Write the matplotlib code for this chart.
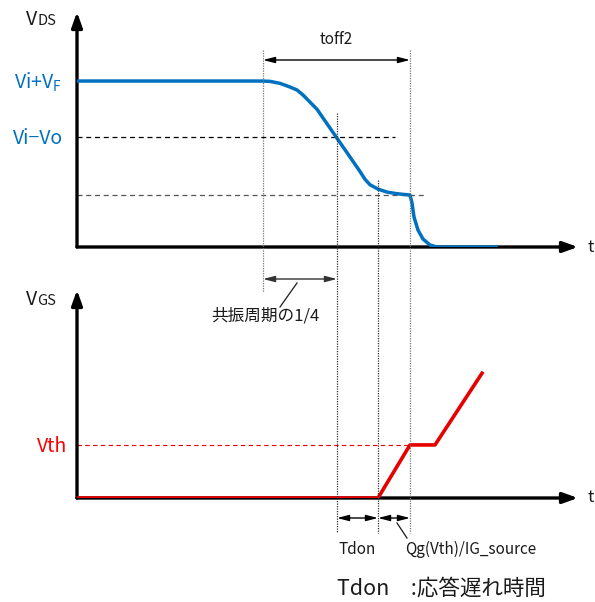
import matplotlib.pyplot as plt
from matplotlib.transforms import blended_transform_factory as blend

plt.rcParams['font.family'] = ['Noto Sans CJK JP', 'DejaVu Sans']

## values (arbitrary time units / relative voltages) ##
t_vds = [0, 18.6, 19.3, 20.3, 21.3, 22.0, 22.6, 23.3, 24.0, 28.3, 28.8, 29.3, 30.1, 31.0, 32.0,
         33.3, 33.5, 33.7, 34.1, 34.6, 35.3, 36.0, 42.1]
v_vds = [1.0, 1.0, 0.998, 0.986, 0.964, 0.946, 0.916, 0.873, 0.83, 0.455, 0.408, 0.375, 0.349, 0.331, 0.321,
         0.313, 0.265, 0.181, 0.102, 0.048, 0.012, 0.0, 0.0]
t_vgs = [0, 30.1, 33.3, 35.8, 40.6]
v_vgs = [0, 0, 1.0, 1.0, 2.38]

vi_vf = 1.0
vi_vo = 0.663
v_plateau = 0.313
v_th = 1.0

t_toff = 18.6   # start of toff2
t_res = 26.0    # end of 1/4 resonance
t_don = 30.1    # end of Tdon
t_th = 33.3     # gate reaches Vth
t_end = 50.1

W, H = 595, 602
blue = '#0070C0'
red = '#E60000'
ink = '#1a1a1a'

fig = plt.figure(figsize=(W / 100, H / 100), dpi=100)

def fy(py):
    return 1 - py / H

# top: VDS
ax1 = fig.add_axes([77 / W, fy(247), 501 / W, (247 - 12) / H])
ax1.set_xlim(0, t_end)
ax1.set_ylim(0, 1.416)
# bottom: VGS
ax2 = fig.add_axes([77 / W, fy(498), 501 / W, (498 - 290) / H])
ax2.set_xlim(0, t_end)
ax2.set_ylim(0, 3.92)
for a in (ax1, ax2):
    a.axis('off')
    a.patch.set_alpha(0)

# overlay in pixel coords for labels
ov = fig.add_axes([0, 0, 1, 1], zorder=-1)
ov.set_xlim(0, W)
ov.set_ylim(H, 0)
ov.axis('off')

head = '-|>,head_length=0.9,head_width=0.32'
for a, ytop in ((ax1, 1.416), (ax2, 3.92)):
    a.annotate('', xy=(0, ytop), xytext=(0, 0), annotation_clip=False,
               arrowprops=dict(arrowstyle=head, lw=2.4, color='k', mutation_scale=10, shrinkA=0, shrinkB=0))
    a.annotate('', xy=(t_end, 0), xytext=(0, 0), annotation_clip=False,
               arrowprops=dict(arrowstyle=head, lw=2.4, color='k', mutation_scale=10, shrinkA=0, shrinkB=0))

# curves
ax1.plot(t_vds, v_vds, color=blue, lw=2.5, zorder=5, solid_capstyle='butt', solid_joinstyle='round')
ax2.plot(t_vgs, v_vgs, color=red, lw=2.6, zorder=5, solid_capstyle='butt')

# horizontal guides
ax1.plot([0, 31.8], [vi_vo, vi_vo], color='k', lw=0.9, ls=(0, (4, 3)))
ax1.plot([0, 35.0], [v_plateau, v_plateau], color='#555555', lw=0.9, ls=(0, (4, 3)))
ax2.plot([0, t_th], [v_th, v_th], color=red, lw=0.8, ls=(0, (4, 3)))

# vertical guides (x in data, y in figure)
tr = blend(ax1.transData, fig.transFigure)
for t, y0, y1, c in ((t_toff, 50, 292, '#777777'), (t_res, 113, 533, '#333333'),
                     (t_don, 180, 533, '#333333'), (t_th, 50, 533, '#777777')):
    fig.add_artist(plt.Line2D([t, t], [fy(y0), fy(y1)], transform=tr, color=c, lw=0.9, ls=(0, (1, 1))))

def dim(t0, t1, py, col='k'):
    ax1.annotate('', xy=(t1, fy(py)), xytext=(t0, fy(py)), xycoords=tr, textcoords=tr,
                 annotation_clip=False,
                 arrowprops=dict(arrowstyle='<|-|>,head_length=0.7,head_width=0.18', lw=1.0,
                                 color=col, mutation_scale=10, shrinkA=0, shrinkB=0))

dim(t_toff, t_th, 60)
dim(t_toff, t_res, 279, '#333333')
dim(t_res, t_don, 518)
dim(t_don, t_th, 518)

# leader lines
ov.plot([297, 280], [283, 307], color=ink, lw=0.9)
ov.plot([397, 407], [523, 538], color=ink, lw=0.9)

# labels
ov.text(37, 25, 'V', fontsize=14, color=ink, ha='right', va='baseline')
ov.text(37.5, 25, 'DS', fontsize=10.5, color=ink, ha='left', va='baseline')
ov.text(37, 305, 'V', fontsize=14, color=ink, ha='right', va='baseline')
ov.text(37.5, 305, 'GS', fontsize=10.5, color=ink, ha='left', va='baseline')
ov.text(62, 89, r'Vi+V$_\mathregular{F}$', fontsize=14, color=blue, ha='right', va='baseline')
ov.text(63, 144, 'Vi\u2212Vo', fontsize=14, color=blue, ha='right', va='baseline')
ov.text(67, 452, 'Vth', fontsize=14, color='#FF0000', ha='right', va='baseline')
ov.text(587, 247, 't', fontsize=12, color=ink, ha='left', va='center')
ov.text(587, 498, 't', fontsize=12, color=ink, ha='left', va='center')
ov.text(336, 40, 'toff2', fontsize=11, color=ink, ha='center', va='center')
ov.text(265, 316, '共振周期の1/4', fontsize=12, color=ink, ha='center', va='center')
ov.text(357, 549, 'Tdon', fontsize=11, color=ink, ha='center', va='center')
ov.text(471, 549, 'Qg(Vth)/IG_source', fontsize=11, color=ink, ha='center', va='center')
ov.text(441, 589, 'Tdon\u3000:応答遅れ時間', fontsize=15.5, color=ink, ha='center', va='center')

fig.savefig('out.png', dpi=100)
